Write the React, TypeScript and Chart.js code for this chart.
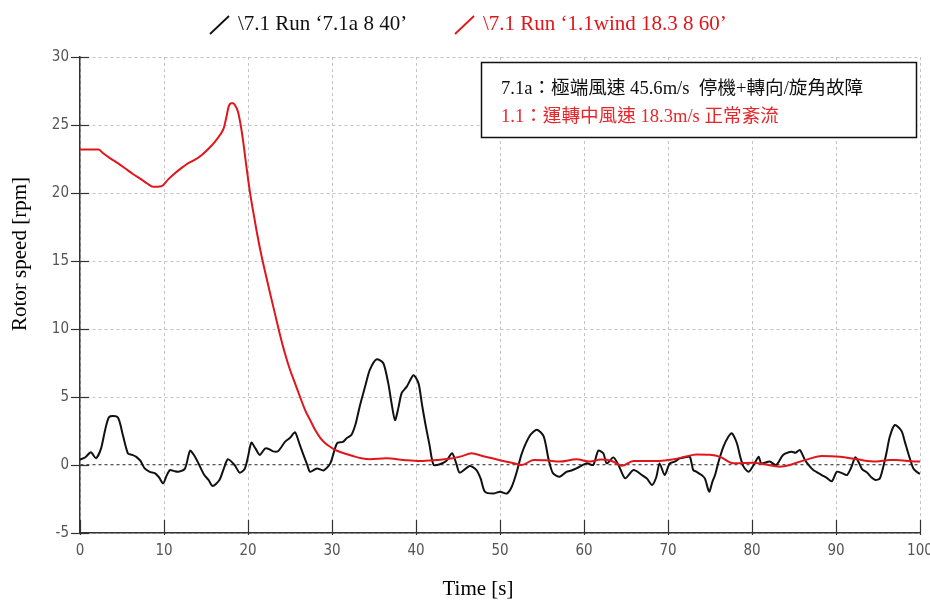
import React, { useEffect, useRef } from 'react';
import { Chart, registerables } from 'chart.js';

Chart.register(...registerables);

// ---- data ----
const blackTime = [
  0, 0.6, 1.3, 1.9, 2.5, 3.0, 3.5, 4.5, 5.1, 5.7, 6.2, 6.7, 7.2, 7.7, 8.3, 8.9, 9.4, 9.9,
  10.3, 10.7, 11.2, 11.7, 12.5, 13.1, 13.6, 14.0, 14.8, 15.3, 15.8, 16.6, 17.1, 17.6, 18.4, 19.0, 19.6,
  20.0, 20.4, 20.9, 21.4, 22.0, 22.4, 23.0, 23.6, 24.4, 25.0, 25.6, 26.1, 26.6, 27.0, 27.4, 28.2, 29.0, 29.8,
  30.6, 31.3, 31.8, 32.3, 32.8, 33.3, 34.0, 34.5, 35.3, 36.1, 36.7, 37.1, 37.5, 37.9, 38.3, 38.9, 39.7,
  40.3, 40.7, 41.1, 41.6, 42.1, 42.9, 43.6, 44.3, 44.8, 45.2, 46.4, 47.2, 47.7, 48.2, 49.2,
  50.0, 50.8, 51.4, 52.0, 52.6, 53.6, 54.4, 55.2, 55.8, 56.3, 57.1, 57.9, 58.5, 59.1,
  60.3, 61.1, 61.7, 62.3, 62.7, 63.5, 64.1, 64.9, 65.9, 66.9, 67.5, 68.1, 68.6, 69.0, 69.6,
  70.2, 70.8, 71.4, 72.0, 72.6, 73.0, 73.4, 74.0, 74.4, 74.9, 75.3, 75.6, 76.0, 76.6, 77.2, 77.6, 78.2, 78.6, 79.0, 79.6,
  80.2, 80.8, 81.1, 82.1, 82.9, 83.7, 84.7, 85.2, 85.7, 86.3, 86.9, 87.3, 88.3, 88.9, 89.5,
  90.1, 90.7, 91.3, 91.8, 92.3, 92.7, 93.1, 93.7, 94.2, 94.7, 95.2, 95.6, 96.0, 96.4, 97.0, 97.8, 98.2, 98.6, 99.2, 99.6, 100,
];
const blackRpm = [
  0.4, 0.55, 0.93, 0.49, 1.2, 2.6, 3.55, 3.5, 2.2, 0.86, 0.75, 0.6, 0.3, -0.25, -0.5, -0.6, -0.9, -1.35,
  -0.8, -0.37, -0.45, -0.5, -0.25, 1.05, 0.7, 0.25, -0.74, -1.1, -1.55, -1.1, -0.3, 0.42, 0, -0.56, -0.3,
  0.6, 1.64, 1.2, 0.74, 1.2, 1.2, 1.0, 1.03, 1.7, 2.0, 2.4, 1.6, 0.74, 0.1, -0.5, -0.25, -0.4, 0.12,
  1.6, 1.7, 2.0, 2.2, 3.0, 4.3, 5.9, 7.0, 7.77, 7.5, 6.0, 4.5, 3.3, 4.2, 5.3, 5.76, 6.6,
  6.0, 4.5, 3.07, 1.5, 0, 0.07, 0.3, 0.86, 0.1, -0.56, -0.07, -0.37, -1.0, -1.96, -2.1,
  -1.96, -2.1, -1.6, -0.5, 0.86, 2.2, 2.6, 2.1, 0.37, -0.6, -0.86, -0.5, -0.4, -0.25,
  0.12, 0, 1.05, 0.86, 0.12, 0.56, 0, -0.98, -0.37, -0.74, -1.0, -1.47, -0.9, 0.12, -0.74,
  0.12, 0.25, 0.49, 0.56, 0.6, -0.37, -0.5, -0.74, -1.0, -1.96, -1.2, -0.74, 0.2, 1.35, 2.1, 2.33, 1.6, 0.6, -0.12, -0.5,
  0.0, 0.6, 0.12, 0.25, 0, 0.74, 0.98, 0.9, 1.1, 0.37, -0.12, -0.37, -0.74, -0.95, -1.2,
  -0.5, -0.6, -0.74, -0.2, 0.56, 0.2, -0.3, -0.56, -0.9, -1.1, -1.0, -0.2, 0.86, 2.08, 2.94, 2.5, 1.7, 0.86, -0.25, -0.5, -0.66,
];
const redTime = [
  0, 2.2, 2.8, 3.6, 4.5, 5.4, 6.3, 7.3, 8.0, 8.7, 9.7, 10.5, 11.3, 12.1, 12.9, 13.7, 14.5, 15.3, 16.1, 16.7,
  17.1, 17.4, 17.7, 18.0, 18.25, 18.5, 18.8, 19.1, 19.4, 19.8, 20.2, 20.6, 21.0, 21.5, 22.0, 22.6, 23.2, 23.8,
  24.4, 25.0, 25.6, 26.2, 26.8, 27.4, 28.0, 28.6, 29.2, 30.0, 30.6, 31.5, 32.5, 33.5, 34.5, 36.5, 38.5,
  40.5, 42.5, 44.4, 45.5, 46.6, 48.0, 50.0, 51.5, 52.6, 54.0, 55.5, 57.1, 59.1, 60.7, 62.0, 63.3, 64.5,
  65.9, 67.5, 69.0, 70.5, 72.0, 73.4, 75.0, 76.2, 77.8, 79.0, 80.2, 81.5, 83.3, 84.5, 85.7, 86.8, 88.3,
  90.5, 92.5, 94.8, 96.4, 97.2, 98.5, 100,
];
const redRpm = [
  23.2, 23.2, 22.9, 22.55, 22.2, 21.8, 21.4, 21.0, 20.7, 20.46, 20.5, 21.0, 21.45, 21.85, 22.2, 22.45, 22.8, 23.25, 23.8, 24.3,
  24.75, 25.5, 26.35, 26.6, 26.6, 26.4, 26.0, 25.1, 23.9, 22.0, 20.2, 18.7, 17.3, 15.7, 14.3, 12.7, 11.15, 9.6,
  8.2, 7.0, 6.0, 5.0, 4.04, 3.3, 2.57, 2.0, 1.6, 1.25, 1.05, 0.85, 0.66, 0.5, 0.42, 0.49, 0.37,
  0.29, 0.37, 0.49, 0.65, 0.86, 0.65, 0.35, 0.15, 0, 0.37, 0.35, 0.25, 0.42, 0.25, 0.4, 0.3, -0.05,
  0.3, 0.3, 0.3, 0.4, 0.6, 0.78, 0.75, 0.6, 0.12, 0.15, 0.17, 0.05, -0.12, 0, 0.25, 0.45, 0.66,
  0.6, 0.42, 0.25, 0.37, 0.37, 0.3, 0.25,
];
const xTicks = [0, 10, 20, 30, 40, 50, 60, 70, 80, 90, 100];
const yTicks = [-5, 0, 5, 10, 15, 20, 25, 30];
const seriesLabels = ['\\7.1 Run ‘7.1a 8 40’', '\\7.1 Run ‘1.1wind 18.3 8 60’'];
const noteLines = ['7.1a：極端風速 45.6m/s  停機+轉向/旋角故障', '1.1：運轉中風速 18.3m/s 正常紊流'];
const xTitle = 'Time [s]';
const yTitle = 'Rotor speed [rpm]';

const BLACK = '#111111';
const RED = '#e0161c';
const TICK_FONT = '"Liberation Sans Narrow", "DejaVu Sans Condensed", sans-serif';
const SERIF = '"Liberation Serif", "Noto Sans CJK TC", serif';

const decor = {
  id: 'decor',
  afterDraw(chart: any) {
    const ctx = chart.ctx as CanvasRenderingContext2D;
    const xs = chart.scales.x;
    const ys = chart.scales.y;
    ctx.save();
    // tick marks
    ctx.strokeStyle = '#333';
    ctx.lineWidth = 1.2;
    ctx.setLineDash([]);
    yTicks.forEach((v) => {
      const py = Math.round(ys.getPixelForValue(v)) + 0.5;
      ctx.beginPath();
      ctx.moveTo(xs.left - 9, py);
      ctx.lineTo(xs.left + 9, py);
      ctx.stroke();
    });
    xTicks.forEach((v) => {
      const px = Math.round(xs.getPixelForValue(v)) + 0.5;
      ctx.beginPath();
      ctx.moveTo(px, ys.bottom - 13);
      ctx.lineTo(px, ys.bottom + 2);
      ctx.stroke();
    });

    // axis titles
    ctx.fillStyle = '#000';
    ctx.font = '21px ' + SERIF;
    ctx.textAlign = 'center';
    ctx.textBaseline = 'middle';
    ctx.fillText(xTitle, 478, 589);
    ctx.save();
    ctx.translate(20, 254);
    ctx.rotate(-Math.PI / 2);
    ctx.fillText(yTitle, 0, 0);
    ctx.restore();

    // legend
    const ds = chart.data.datasets;
    const items = [
      { x: 210, label: seriesLabels[0], color: ds[1].borderColor },
      { x: 455, label: seriesLabels[1], color: ds[0].borderColor },
    ];
    ctx.textAlign = 'left';
    ctx.textBaseline = 'alphabetic';
    ctx.font = '21px ' + SERIF;
    items.forEach((it) => {
      ctx.strokeStyle = it.color;
      ctx.lineWidth = 1.8;
      ctx.beginPath();
      ctx.moveTo(it.x, 34);
      ctx.lineTo(it.x + 19, 16);
      ctx.stroke();
      ctx.fillStyle = it.color;
      ctx.fillText(it.label, it.x + 28, 30);
    });

    // note box
    ctx.fillStyle = '#fff';
    ctx.fillRect(481.5, 62.5, 435, 75);
    ctx.strokeStyle = '#111';
    ctx.lineWidth = 1.5;
    ctx.strokeRect(481.5, 62.5, 435, 75);
    ctx.font = '18.6px ' + SERIF;
    ctx.fillStyle = '#111';
    ctx.fillText(noteLines[0], 501, 94);
    ctx.fillStyle = '#e8262b';
    ctx.fillText(noteLines[1], 501, 122);
    ctx.restore();
  },
};

export default function App() {
  const ref = useRef<HTMLCanvasElement | null>(null);
  useEffect(() => {
    document.body.style.margin = '0';
    const canvas = ref.current;
    if (!canvas) return;
    const chart = new Chart(canvas, {
      type: 'line',
      data: {
        datasets: [
          {
            label: seriesLabels[1],
            data: redTime.map((t, i) => ({ x: t, y: redRpm[i] })),
            borderColor: RED,
            borderWidth: 2,
            pointRadius: 0,
            tension: 0.35,
            cubicInterpolationMode: 'monotone',
            order: 0,
          },
          {
            label: seriesLabels[0],
            data: blackTime.map((t, i) => ({ x: t, y: blackRpm[i] })),
            borderColor: BLACK,
            borderWidth: 2,
            pointRadius: 0,
            tension: 0.25,
            order: 1,
          },
        ],
      },
      options: {
        responsive: false,
        animation: false,
        devicePixelRatio: 1,
        layout: { padding: { top: 57, right: 10, left: 0, bottom: 0 } },
        plugins: { legend: { display: false }, tooltip: { enabled: false } },
        scales: {
          x: {
            type: 'linear',
            min: 0,
            max: 100,
            afterFit: (s: any) => { s.height = 67; s.paddingLeft = 0; s.paddingRight = 0; },
            ticks: {
              stepSize: 10,
              color: '#555',
              padding: 9,
              maxRotation: 0,
              font: { family: TICK_FONT, size: 15 },
            },
            grid: { color: '#c4c4c4', lineWidth: 1, drawTicks: false },
            border: { color: '#333', width: 1.5, dash: [3, 3] },
          },
          y: {
            type: 'linear',
            min: -5,
            max: 30,
            afterFit: (s: any) => { s.width = 80; s.paddingTop = 0; s.paddingBottom = 0; },
            ticks: {
              stepSize: 5,
              color: '#555',
              padding: 11,
              font: { family: TICK_FONT, size: 15 },
            },
            grid: {
              color: (c: any) => (c.tick && c.tick.value === 0 ? '#555' : '#c4c4c4'),
              lineWidth: (c: any) => (c.tick && c.tick.value === 0 ? 1.3 : 1),
              drawTicks: false,
            },
            border: { color: '#333', width: 1.5, dash: [3, 3] },
          },
        },
      },
      plugins: [decor],
    } as any);
    return () => chart.destroy();
  }, []);
  return (
    <div style={{ position: 'absolute', left: 0, top: 0, width: 930, height: 600, background: '#fff' }}>
      <canvas ref={ref} width={930} height={600} style={{ width: 930, height: 600, display: 'block' }} />
    </div>
  );
}
